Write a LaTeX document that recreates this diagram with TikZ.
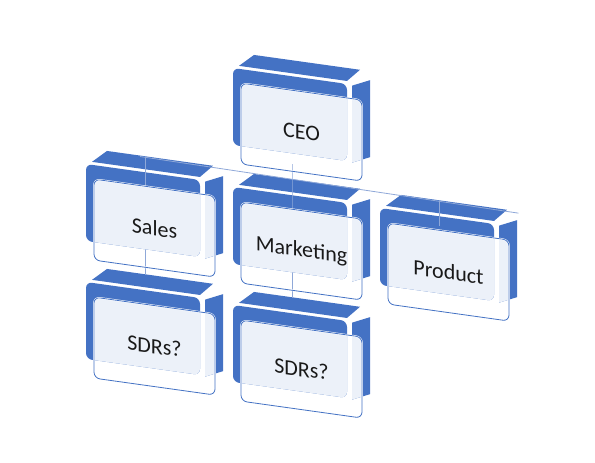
\documentclass[tikz,border=0pt]{standalone}
\usepackage{fontspec}
\setmainfont{Carlito}
\usetikzlibrary{calc}

\definecolor{accent}{HTML}{4472C4}
\definecolor{tint}{HTML}{ECF1F9}
\definecolor{linkcol}{HTML}{8FA8D8}

% pieces of one 3D box, in the box's own (slanted) frame
\newcommand{\orgframe}{(0,0) rectangle (114,77)}
\newcommand{\orgslab}{(6,-3) -- (114,-3) -- (127,-16) -- (21,-16) -- cycle}
\newcommand{\orgside}{(119,1) -- (137,-7) -- (137,70) -- (119,78) -- cycle}
\newcommand{\orgfront}{(8,14) rectangle (129,95)}

\tikzset{
  boxback/.style={fill=accent},
  boxface/.style={draw=white, line width=0.5pt, double=accent, double distance=0.8pt, rounded corners=6pt},
  boxlink/.style={draw=linkcol, line width=0.8pt},
  boxtext/.style={font=\fontsize{22}{26}\selectfont, text=black!90, transform shape},
}

\begin{document}
\begin{tikzpicture}[x=1pt,y=-1pt]
  \useasboundingbox (0,0) rectangle (595,463);

  % blue back of every box
  \foreach \name/\bx/\by in {ceo/233/68, sales/86/164, mkt/233/187,
                             prod/380/208, sdrA/86/282, sdrB/233/305} {
    \begin{scope}[shift={(\bx,\by)}, yslant=-0.14]
      \fill[boxback, rounded corners=6pt] \orgframe;
      \fill[boxback] \orgslab;
      \fill[boxback] \orgside;
      \coordinate (\name-up) at (59,-15);
      \coordinate (\name-in) at (59,10);
      \coordinate (\name-dn) at (59,88);
    \end{scope}
  }

  % connectors
  \draw[boxlink] ($(sales-up)!-0.017!(prod-up)$) -- ($(sales-up)!1.27!(prod-up)$);
  \draw[boxlink] (ceo-dn) -- (mkt-up) -- (sdrB-up);
  \draw[boxlink] (sales-up) -- (sdrA-up);
  \draw[boxlink] (prod-up) -- (prod-in);

  % light front of every box
  \foreach \name/\bx/\by/\txt in {ceo/233/68/CEO, sales/86/164/Sales,
                                  mkt/233/187/Marketing, prod/380/208/Product,
                                  sdrA/86/282/SDRs?, sdrB/233/305/SDRs?} {
    \begin{scope}[shift={(\bx,\by)}, yslant=-0.14]
      \begin{scope}
        \clip[rounded corners=6pt] \orgfront;
        \fill[tint, rounded corners=6pt] \orgframe;
        \fill[tint] \orgside;
      \end{scope}
      \draw[boxface] \orgfront;
      \node[boxtext] (\name) at (68.5,54.5) {\txt};
    \end{scope}
  }
\end{tikzpicture}
\end{document}
